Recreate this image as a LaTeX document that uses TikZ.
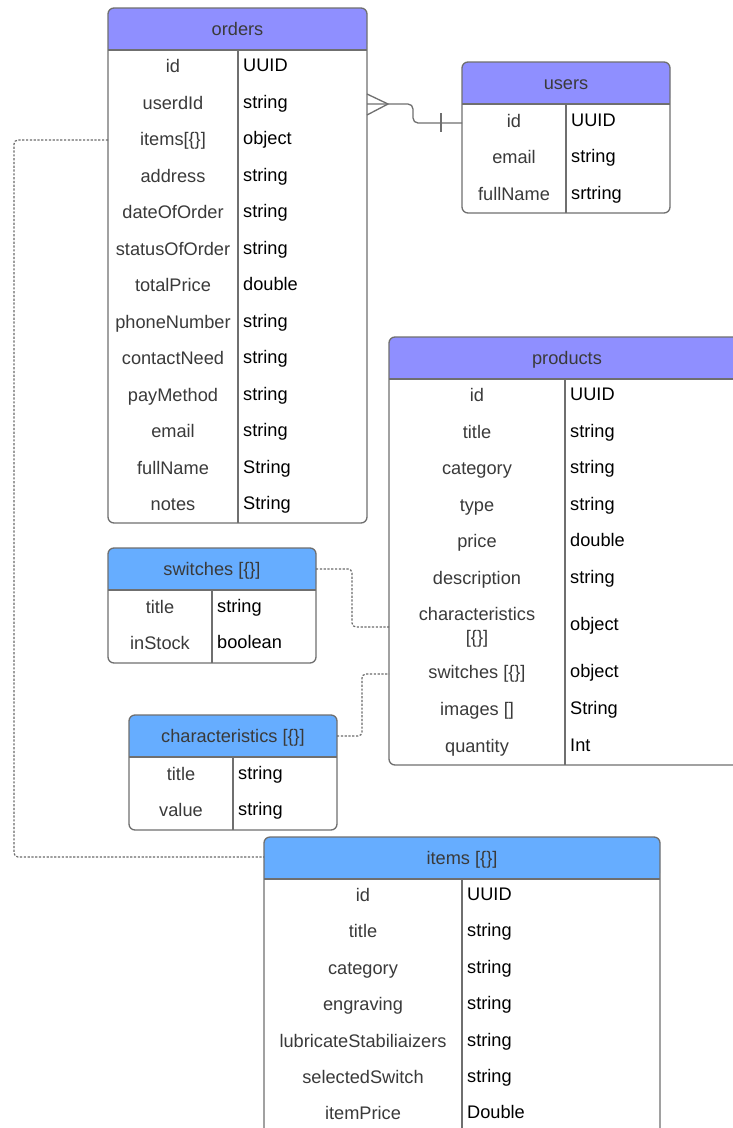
\documentclass[tikz,border=0pt]{standalone}
\usepackage{fontspec}
\setmainfont{Liberation Sans}
\definecolor{hdrA}{HTML}{8F8FFF}
\definecolor{hdrB}{HTML}{66ADFF}
\definecolor{bord}{HTML}{6F6F6F}
\definecolor{txtg}{HTML}{3A3A3A}
\definecolor{dashc}{HTML}{6A6A6A}
\newcommand{\tabfont}{\fontsize{18.2}{21}\selectfont}
\tikzset{
  bordr/.style={draw=bord, line width=1.3pt},
  hdrtxt/.style={text=txtg, font=\tabfont, anchor=base, inner sep=0pt},
  lcol/.style={text=txtg, font=\tabfont, anchor=base, inner sep=0pt},
  rcol/.style={text=black, font=\tabfont, anchor=base west, inner sep=0pt},
  dashline/.style={draw=dashc, line width=1.2pt, dash pattern=on 2.2pt off 1.6pt, rounded corners=4},
  erline/.style={draw=bord, line width=1.3pt}
}
% #1 name, #2 x1, #3 x2, #4 ytop, #5 ybottom, #6 xdiv, #7 colour, #8 title
\newcommand{\erbox}[8]{%
  \fill[#7,rounded corners=6] (#2,#4) rectangle (#3,#4+42);
  \fill[#7] (#2,#4+20) rectangle (#3,#4+42);
  \draw[bordr,rounded corners=6] (#2,#4) rectangle (#3,#5);
  \draw[bordr] (#2,#4+42) -- (#3,#4+42);
  \draw[bordr] (#6,#4+42) -- (#6,#5);
  \node[hdrtxt] (#1) at ({(#2+#3)/2},#4+27) {#8};
}
% #1 table, #2 index, #3 x centre of key column, #4 xdiv, #5 baseline, #6 key, #7 value
\newcommand{\errow}[7]{%
  \node[lcol] (#1-k#2) at (#3,#5) {#6};
  \node[rcol] (#1-v#2) at (#4+5,#5-1) {#7};
}
\begin{document}
\begin{tikzpicture}[x=1pt,y=-1pt]
\useasboundingbox (0,0) rectangle (732,1128);
\fill[white] (0,0) rectangle (732,1128);

% orders
\erbox{orders}{108}{367}{8}{523}{238}{hdrA}{orders}
\foreach \k/\a/\b in {0/id/UUID,1/userdId/string,2/items[\{\}]/object,3/address/string,
  4/dateOfOrder/string,5/statusOfOrder/string,6/totalPrice/double,7/phoneNumber/string,
  8/contactNeed/string,9/payMethod/string,10/email/string,11/fullName/String,12/notes/String}{
  \errow{ord}{\k}{173}{238}{72.5+36.5*\k}{\a}{\b}
}

% users
\erbox{users}{462}{670}{62}{213}{566}{hdrA}{users}
\foreach \k/\a/\b in {0/id/UUID,1/email/string,2/fullName/srtring}{
  \errow{usr}{\k}{514}{566}{127+36.5*\k}{\a}{\b}
}

% products
\erbox{products}{389}{745}{337}{765}{565}{hdrA}{products}
\errow{prd}{0}{477}{565}{401.5}{id}{UUID}
\errow{prd}{1}{477}{565}{438.5}{title}{string}
\errow{prd}{2}{477}{565}{474.5}{category}{string}
\errow{prd}{3}{477}{565}{511.5}{type}{string}
\errow{prd}{4}{477}{565}{547.5}{price}{double}
\errow{prd}{5}{477}{565}{584.5}{description}{string}
\node[lcol] (prd-k6) at (477,620.5) {characteristics};
\node[lcol] (prd-k6b) at (477,643.5) {[\{\}]};
\node[rcol] (prd-v6) at (570,630.5) {object};
\errow{prd}{7}{477}{565}{678.5}{switches [\{\}]}{object}
\errow{prd}{8}{477}{565}{715.5}{images []}{String}
\errow{prd}{9}{477}{565}{752.5}{quantity}{Int}

% switches
\erbox{switches}{108}{316}{548}{663}{212}{hdrB}{switches [\{\}]}
\errow{sw}{0}{160}{212}{613.5}{title}{string}
\errow{sw}{1}{160}{212}{649.5}{inStock}{boolean}

% characteristics
\erbox{chars}{129}{337}{715}{830}{233}{hdrB}{characteristics [\{\}]}
\errow{ch}{0}{181}{233}{780.5}{title}{string}
\errow{ch}{1}{181}{233}{816.5}{value}{string}

% items
\erbox{items}{264}{660}{837}{1145}{462}{hdrB}{items [\{\}]}
\foreach \k/\a/\b in {0/id/UUID,1/title/string,2/category/string,3/engraving/string,
  4/lubricateStabiliaizers/string,5/selectedSwitch/string,6/itemPrice/Double}{
  \errow{itm}{\k}{363}{462}{901.5+36.4*\k}{\a}{\b}
}

% connector orders -> users
\coordinate (ouA) at (367,104);
\coordinate (ouTip) at (388,104);
\coordinate (usA) at (462,123);
\draw[erline] (367,94) -- (ouTip) -- (367,115);
\draw[erline,rounded corners=5] (ouA) -- (ouTip) -- (413,104) -- (413,123) -- (usA);
\draw[erline] (441,113) -- (441,132);

% dashed connectors
\coordinate (ordItems) at (108,140);
\coordinate (itemsIn) at (264,857);
\draw[dashline] (ordItems) -- (14,140) -- (14,857) -- (itemsIn);

\coordinate (swOut) at (316,569);
\coordinate (prdChar) at (389,627);
\draw[dashline] (swOut) -- (352,569) -- (352,627) -- (prdChar);

\coordinate (chOut) at (337,736);
\coordinate (prdSw) at (389,674);
\draw[dashline] (chOut) -- (362,736) -- (362,674) -- (prdSw);
\end{tikzpicture}
\end{document}
